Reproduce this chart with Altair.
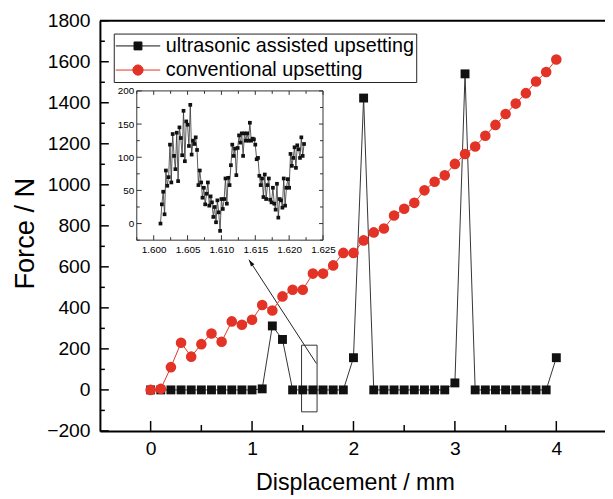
import altair as alt
import pandas as pd

FONT = "Liberation Sans"
RED = "#e23326"
BLK = "#111111"

# ---------------- data ----------------
names = ["ultrasonic assisted upsetting", "conventional upsetting"]
disp = [round(0.1 * i, 1) for i in range(41)]
ultrasonic = [0, 0, 0, 0, 0, 0, 0, 0, 0, 0, 0, 5, 312, 246, 0, 0, 0, 0, 0, 0,
              157, 1423, 0, 0, 0, 0, 0, 0, 0, 0, 34, 1541, 0, 0, 0, 0, 0, 0, 0, 0, 157]
conventional = [0, 5, 111, 230, 162, 223, 275, 235, 334, 318, 342, 414, 387, 456, 488,
                488, 567, 567, 607, 668, 668, 729, 768, 787, 850, 883, 912, 973, 1015,
                1046, 1102, 1150, 1187, 1239, 1292, 1345, 1396, 1447, 1504, 1550, 1611]

inset_force = [0, 29, 48, 14, 80, 57, 70, 119, 62, 135, 102, 82, 137, 64, 145, 129, 103,
               170, 94, 154, 149, 117, 179, 104, 125, 120, 130, 111,
               58, 80, 62, 39, 54, 29, 45, 62, 27, 41, 32, 10, 25, 2, 35, 17, -11, 37, 22,
               37, 68, 30, 69, 58, 88, 119, 102, 113, 73, 114, 133, 122, 136, 102, 136,
               125, 136, 125, 152, 125, 128, 127,
               119, 97, 99, 72, 58, 68, 40, 74, 37, 58, 68, 36, 32, 54, 30, 21, 60, 9, 37,
               35, 24, 68, 27, 54, 67, 54, 105, 87, 99, 115, 84, 118, 112, 99, 130, 102, 120]
inset_disp = [round(1.601 + 0.0002 * i, 4) for i in range(len(inset_force))]

x_major = [0, 1, 2, 3, 4]
x_minor = [0.5, 1.5, 2.5, 3.5]
y_major = list(range(-200, 1801, 200))
y_minor = list(range(-100, 1701, 200))
ix_major = [1.600, 1.605, 1.610, 1.615, 1.620, 1.625]
ix_minor = [1.5975, 1.6025, 1.6075, 1.6125, 1.6175, 1.6225]
iy_major = [0, 50, 100, 150, 200]
iy_minor = [-25, 25, 75, 125, 175]

# annotation (zoom box and arrow), in data units
box_x = [1.488, 1.641]
box_y = [-107, 218]
arrow_from = [1.634, 129]
arrow_to = [0.969, 635]

# ---------------- layout ----------------
W, H = 511, 415
IX0, IX1, IY0, IY1 = 37.3, 225.7, 71, 222

XS = alt.Scale(domain=[-0.5, 4.48], nice=False, zero=False)
YS = alt.Scale(domain=[-200, 1800], nice=False, zero=False)
IXS = alt.Scale(domain=[1.5975, 1.625], range=[IX0, IX1], nice=False, zero=False)
IYS = alt.Scale(domain=[-25, 200], range=[IY1, IY0], nice=False, zero=False)

df_u = pd.DataFrame({"d": disp, "f": ultrasonic})
df_c = pd.DataFrame({"d": disp, "f": conventional})
df_all = pd.concat([df_u.assign(s=names[0]), df_c.assign(s=names[1])], ignore_index=True)
df_in = pd.DataFrame({"x": inset_disp, "y": inset_force})
one = pd.DataFrame({"k": [0]})

x_axis = alt.Axis(orient="bottom", values=x_major, format="d", ticks=False, domain=True,
                  domainColor="black", domainWidth=2, labelFontSize=19.5, labelPadding=9,
                  title="Displacement / mm", titleFontSize=23.5, titleFontWeight="normal",
                  titleX=258, titleY=59, titleBaseline="alphabetic", grid=False)
y_axis = alt.Axis(orient="left", values=y_major, format="d", ticks=False, domain=True,
                  domainColor="black", domainWidth=2, labelFontSize=19.5, labelPadding=10,
                  title="Force / N", titleFontSize=27.5, titleFontWeight="normal",
                  titleAngle=270, titleX=-67.7, titleY=215, titleAlign="center",
                  titleBaseline="alphabetic", grid=False)

P_SQ = "M-2.25,0H2.25M-0.4,-0.4H0.4V0.4H-0.4Z"
P_CI = "M-2.25,0H2.25M-0.52,0A0.52,0.52 0 1,0 0.52,0A0.52,0.52 0 1,0 -0.52,0Z"

leg = alt.Legend(title=None, orient="none", legendX=14, legendY=13, strokeColor="#222",
                 fillColor="white", padding=2, symbolSize=400, symbolOffset=12,
                 labelOffset=17.7, labelFontSize=20, labelFont=FONT, labelColor="black",
                 rowPadding=3.4, symbolStrokeWidth=1, symbolOpacity=1, labelLimit=400)


def xy(xf="d", yf="f", xa=None, ya=None):
    return dict(x=alt.X(f"{xf}:Q", scale=XS, axis=xa), y=alt.Y(f"{yf}:Q", scale=YS, axis=ya))


line_u = alt.Chart(df_u).mark_line(color="#333333", strokeWidth=1).encode(
    **xy(xa=x_axis, ya=y_axis))
pts_u = alt.Chart(df_u).mark_point(shape="square", filled=True, color=BLK, size=81,
                                   opacity=1).encode(**xy())
line_c = alt.Chart(df_c).mark_line(color=RED, strokeWidth=1).encode(**xy())
pts_c = alt.Chart(df_c).mark_point(shape="circle", filled=True, color=RED, size=115,
                                   opacity=1).encode(**xy())

carrier = alt.Chart(df_all).mark_point(filled=True, opacity=0).encode(
    **xy(),
    fill=alt.Fill("s:N", scale=alt.Scale(domain=names, range=[BLK, RED]), legend=leg),
    stroke=alt.Stroke("s:N", scale=alt.Scale(domain=names, range=[BLK, RED]), legend=leg),
    shape=alt.Shape("s:N", scale=alt.Scale(domain=names, range=[P_SQ, P_CI]), legend=leg),
)

zoom_box = alt.Chart(one).mark_rect(fillOpacity=0, stroke="#333333", strokeWidth=1).encode(
    x=alt.XDatum(box_x[0], scale=XS, axis=None), x2=alt.X2Datum(box_x[1]),
    y=alt.YDatum(box_y[0], scale=YS, axis=None), y2=alt.Y2Datum(box_y[1]))
arrow_line = alt.Chart(one).mark_rule(color="#222222", strokeWidth=1).encode(
    x=alt.XDatum(arrow_from[0], scale=XS, axis=None), y=alt.YDatum(arrow_from[1], scale=YS, axis=None),
    x2=alt.X2Datum(arrow_to[0]), y2=alt.Y2Datum(arrow_to[1]))
arrow_head = alt.Chart(one).mark_point(shape="M0,0L-0.6,2L0.6,2Z", filled=True,
                                       color="#111111", size=49, angle=327,
                                       opacity=1).encode(
    x=alt.XDatum(arrow_to[0], scale=XS, axis=None), y=alt.YDatum(arrow_to[1], scale=YS, axis=None))


def vrules(vals, scale, y0, y1, w=1.5, color="black"):
    return alt.Chart(pd.DataFrame({"v": vals})).mark_rule(color=color, strokeWidth=w).encode(
        x=alt.X("v:Q", scale=scale, axis=None), y=alt.value(y0), y2=alt.value(y1))


def hrules(vals, scale, x0, x1, w=1.5, color="black"):
    return alt.Chart(pd.DataFrame({"v": vals})).mark_rule(color=color, strokeWidth=w).encode(
        y=alt.Y("v:Q", scale=scale, axis=None), x=alt.value(x0), x2=alt.value(x1))


top_line = alt.Chart(one).mark_rule(color="black", strokeWidth=2).encode(
    x=alt.value(0), x2=alt.value(W), y=alt.value(0))

# ---------------- inset ----------------
ix_axis = alt.Axis(orient="bottom", offset=-(H - IY1), values=ix_major, format=".3f",
                   ticks=False, domain=False, labelFontSize=10, labelPadding=4,
                   labelOverlap=False, labelFlush=False, title=None, grid=False)
iy_axis = alt.Axis(orient="left", offset=-IX0, values=iy_major, format="d", ticks=False,
                   domain=False, labelFontSize=10, labelPadding=3,
                   labelOverlap=False, labelFlush=False, title=None, grid=False)

inset_frame = alt.Chart(one).mark_rect(fill="white", stroke="#333333", strokeWidth=1).encode(
    x=alt.value(IX0), x2=alt.value(IX1), y=alt.value(IY0), y2=alt.value(IY1))
inset_line = alt.Chart(df_in).mark_line(color="#333333", strokeWidth=0.8).encode(
    x=alt.X("x:Q", scale=IXS, axis=ix_axis), y=alt.Y("y:Q", scale=IYS, axis=iy_axis))
inset_pts = alt.Chart(df_in).mark_point(shape="square", filled=True, color=BLK, size=14,
                                        opacity=1).encode(
    x=alt.X("x:Q", scale=IXS, axis=None), y=alt.Y("y:Q", scale=IYS, axis=None))

GR = "#333333"
layers = [
    zoom_box, arrow_line, arrow_head,
    line_u, pts_u, line_c, pts_c, carrier,
    vrules(x_major, XS, H, H - 10), vrules(x_minor, XS, H, H - 6),
    hrules(y_major, YS, 0, 9), hrules(y_minor, YS, 0, 5),
    top_line,
    inset_frame,
    vrules(ix_major, IXS, IY1, IY1 - 5, 1, GR), vrules(ix_minor, IXS, IY1, IY1 - 3, 1, GR),
    vrules(ix_major, IXS, IY0, IY0 + 4, 1, GR), vrules(ix_minor, IXS, IY0, IY0 + 3, 1, GR),
    hrules(iy_major, IYS, IX0, IX0 + 5, 1, GR), hrules(iy_minor, IYS, IX0, IX0 + 3, 1, GR),
    hrules(iy_major, IYS, IX1, IX1 - 4, 1, GR), hrules(iy_minor, IYS, IX1, IX1 - 3, 1, GR),
    inset_line, inset_pts,
]

chart = alt.layer(*layers).resolve_scale(x="independent", y="independent").properties(
    width=W, height=H,
    padding={"left": 93, "top": 10, "right": 0, "bottom": 66},
    autosize=alt.AutoSizeParams(type="none"),
).configure_view(stroke=None).configure_axis(
    labelFont=FONT, titleFont=FONT, labelColor="black", titleColor="black", grid=False
).configure_legend(labelFont=FONT)

chart.save("out.html", embed_options={"renderer": "svg", "actions": False})
